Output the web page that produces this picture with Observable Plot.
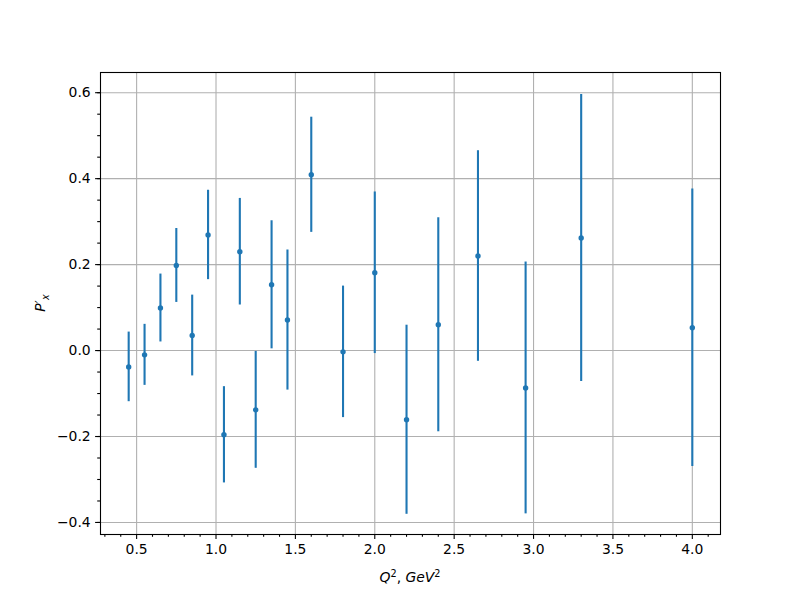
<!DOCTYPE html>
<html>
<head>
<meta charset="utf-8">
<script src="https://cdn.jsdelivr.net/npm/d3@7"></script>
<script src="https://cdn.jsdelivr.net/npm/@observablehq/plot@0.6"></script>
<style>
  html, body { margin: 0; padding: 0; background: white; }
</style>
</head>
<body>
<div id="chart"></div>
<script>
// Data
const q2 = [0.45, 0.55, 0.65, 0.75, 0.85, 0.95, 1.05, 1.15, 1.25, 1.35, 1.45, 1.6, 1.8, 2.0, 2.2, 2.4, 2.65, 2.95, 3.3, 4.0];
const pxPrime = [-0.038, -0.010, 0.099, 0.198, 0.035, 0.269, -0.196, 0.230, -0.138, 0.153, 0.071, 0.409, -0.003, 0.181, -0.161, 0.060, 0.220, -0.087, 0.262, 0.053];
const pxErr = [0.081, 0.071, 0.079, 0.086, 0.094, 0.104, 0.112, 0.124, 0.136, 0.149, 0.163, 0.134, 0.153, 0.188, 0.220, 0.249, 0.245, 0.293, 0.334, 0.323];

const xMajor = [0.5, 1.0, 1.5, 2.0, 2.5, 3.0, 3.5, 4.0];
const xTickLabels = ["0.5", "1.0", "1.5", "2.0", "2.5", "3.0", "3.5", "4.0"];
const xMinor = [0.3, 0.4, 0.6, 0.7, 0.8, 0.9, 1.1, 1.2, 1.3, 1.4, 1.6, 1.7, 1.8, 1.9, 2.1, 2.2, 2.3, 2.4, 2.6, 2.7, 2.8, 2.9, 3.1, 3.2, 3.3, 3.4, 3.6, 3.7, 3.8, 3.9, 4.1];
const yMajor = [-0.4, -0.2, 0.0, 0.2, 0.4, 0.6];
const yTickLabels = ["\u22120.4", "\u22120.2", "0.0", "0.2", "0.4", "0.6"];
const yMinor = [-0.4, -0.35, -0.3, -0.25, -0.2, -0.15, -0.1, -0.05, 0.0, 0.05, 0.1, 0.15, 0.2, 0.25, 0.3, 0.35, 0.4, 0.45, 0.5, 0.55, 0.6];

const rows = q2.map((q, i) => ({q, p: pxPrime[i], lo: pxPrime[i] - pxErr[i], hi: pxPrime[i] + pxErr[i]}));

const blue = "#1f77b4";
const grid = "#b0b0b0";

const chart = Plot.plot({
  width: 800,
  height: 600,
  marginLeft: 100,
  marginRight: 80,
  marginTop: 72,
  marginBottom: 66,
  style: {fontFamily: "DejaVu Sans", fontSize: "13.9px", background: "white", color: "black"},
  x: {domain: [0.2725, 4.1775], label: null},
  y: {domain: [-0.428, 0.647], label: null},
  marks: [
    Plot.gridX(xMajor, {stroke: grid, strokeOpacity: 1, strokeWidth: 1.1}),
    Plot.gridY(yMajor, {stroke: grid, strokeOpacity: 1, strokeWidth: 1.1}),
    Plot.ruleX(rows, {x: "q", y1: "lo", y2: "hi", stroke: blue, strokeWidth: 2.1}),
    Plot.dot(rows, {x: "q", y: "p", r: 2.7, fill: blue, stroke: null}),
    Plot.axisX(xMinor, {anchor: "bottom", tickSize: 2.8, tickFormat: () => "", strokeWidth: 1.1, label: null}),
    Plot.axisX(xMajor, {anchor: "bottom", tickSize: 4.9, tickPadding: 4.9, strokeWidth: 1.1, label: null,
      tickFormat: d => xTickLabels[xMajor.indexOf(d)]}),
    Plot.axisY(yMinor, {anchor: "left", tickSize: 2.8, tickFormat: () => "", strokeWidth: 1.1, label: null}),
    Plot.axisY(yMajor, {anchor: "left", tickSize: 4.9, tickPadding: 4.9, strokeWidth: 1.1, label: null,
      tickFormat: d => yTickLabels[yMajor.indexOf(d)]}),
    Plot.frame({stroke: "black", strokeWidth: 1.1})
  ]
});

document.getElementById("chart").appendChild(chart);

const svg = d3.select(chart);
// x label: Q^2, GeV^2
const xl = svg.append("text")
  .attr("x", 410).attr("y", 582)
  .attr("text-anchor", "middle")
  .attr("font-family", "DejaVu Sans")
  .attr("font-size", 13.9)
  .attr("fill", "black");
xl.append("tspan").attr("font-style", "italic").text("Q");
xl.append("tspan").attr("dy", -5.5).attr("font-size", 9.7).text("2");
xl.append("tspan").attr("dy", 5.5).text(", ");
xl.append("tspan").attr("font-style", "italic").text("GeV");
xl.append("tspan").attr("dy", -5.5).attr("font-size", 9.7).text("2");

// y label: P'_x
const yl = svg.append("text")
  .attr("transform", "translate(45,303) rotate(-90)")
  .attr("text-anchor", "middle")
  .attr("font-family", "DejaVu Sans")
  .attr("font-size", 13.9)
  .attr("fill", "black");
yl.append("tspan").attr("font-style", "italic").text("P");
yl.append("tspan").text("\u2032");
yl.append("tspan").attr("dy", 3.5).attr("font-size", 9.7).attr("font-style", "italic").text("x");
</script>
</body>
</html>
